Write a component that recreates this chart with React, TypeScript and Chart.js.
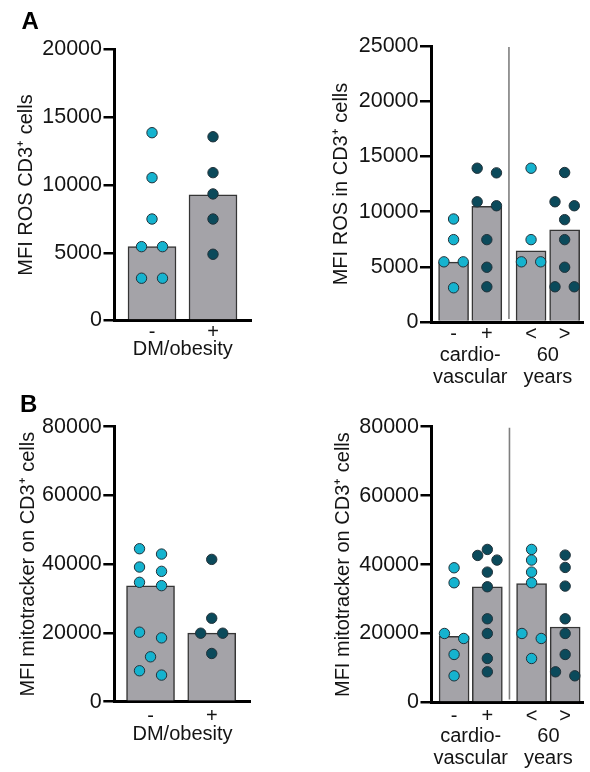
import React, { useEffect, useRef } from 'react';
import { Chart, registerables } from 'chart.js';

Chart.register(...registerables);

// ---------- DATA ----------
// Panel A, left: MFI ROS CD3+ by DM/obesity
const rosDmCategories = ['-', '+'];
const rosDmTitle = 'DM/obesity';
const rosDmBars = [5450, 9270];
const rosDmNeg = [13860, 10540, 7490, 5450, 5450, 3120, 3120];
const rosDmPos = [13560, 10910, 9340, 7490, 4890];

// Panel A, right: MFI ROS in CD3+ by cardiovascular / age
const rosRiskCategories = ['-', '+', '<', '>'];
const rosRiskGroups = [['cardio-', 'vascular'], ['60', 'years']];
const rosRiskBars = [5420, 10480, 6440, 8360];
const rosCvNeg = [9330, 7460, 5450, 5450, 3100];
const rosCvPos = [13930, 13510, 10890, 10530, 7460, 4960, 3190];
const rosAgeLow = [13930, 7460, 5450, 5450];
const rosAgeHigh = [13540, 10890, 10530, 9270, 7460, 4960, 3190, 3190];

// Panel B, left: MFI mitotracker by DM/obesity
const mitoDmCategories = ['-', '+'];
const mitoDmTitle = 'DM/obesity';
const mitoDmBars = [33700, 19930];
const mitoDmNeg = [44500, 42950, 39180, 37920, 34730, 33760, 20220, 18570, 13060, 9000, 7740];
const mitoDmPos = [41400, 24280, 19930, 19930, 14030];

// Panel B, right: MFI mitotracker by cardiovascular / age
const mitoRiskCategories = ['-', '+', '<', '>'];
const mitoRiskGroups = [['cardio-', 'vascular'], ['60', 'years']];
const mitoRiskBars = [19200, 33570, 34500, 21900];
const mitoCvNeg = [39080, 34730, 20020, 18570, 13930, 7740];
const mitoCvPos = [44400, 42660, 41310, 37820, 33570, 24280, 20020, 12770, 8900];
const mitoAgeLow = [44400, 41310, 37820, 34730, 20020, 18570, 12770];
const mitoAgeHigh = [42760, 39180, 33760, 24280, 20020, 13930, 8900, 7740];

// Y-axis tick settings
const rosDmTicks = { max: 20000, step: 5000 };
const rosRiskTicks = { max: 25000, step: 5000 };
const mitoTicks = { max: 80000, step: 20000 };

// ---------- STYLE ----------
const FONT = "'Liberation Sans', Arial, Helvetica, sans-serif";
const LIGHT = '#15b3cf';
const DARK = '#0b4a5b';
const BAR_FILL = '#a4a3a8';
const BAR_EDGE = '#353535';
const TEXT = '#141414';

type Panel = {
  left: number; top: number; width: number; height: number;
  axisX: number; areaTop: number; areaBottom: number; areaRight: number;
  xMin: number; xMax: number; positions: number[]; barThickness: number; slot: number;
  categories: string[]; bars: number[]; groups: number[][]; colors: string[];
  yMax: number; yStep: number; yTitle: string; yTitlePad: number;
  xTickPad: number;
  xTitle?: string; xTitlePadBottom?: number;
  groupLabels?: string[][]; groupPositions?: number[]; groupPad?: number; separator?: number;
};

function swarm(values: number[], center: number, thr: number, slot: number) {
  const sorted = [...values].sort((a, b) => b - a);
  const pts: { x: number; y: number }[] = [];
  let i = 0;
  while (i < sorted.length) {
    let j = i + 1;
    while (j < sorted.length && sorted[j - 1] - sorted[j] < thr) j++;
    const bin = sorted.slice(i, j);
    const n = bin.length;
    const offs = n === 1 ? [0] : n === 2 ? [-1, 1] : n === 3 ? [0, -1, 1] : bin.map((_, k) => k - (n - 1) / 2);
    bin.forEach((v, k) => {
      pts.push({ x: center + offs[k] * slot, y: v });
    });
    i = j;
  }
  return pts;
}

const separatorPlugin = {
  id: 'separator',
  beforeDatasetsDraw(chart: any, _args: any, opts: any) {
    if (opts == null || opts.value == null) return;
    const { ctx, chartArea, scales } = chart;
    const x = scales.x.getPixelForValue(opts.value);
    ctx.save();
    ctx.strokeStyle = opts.color || '#888';
    ctx.lineWidth = opts.width || 1.5;
    ctx.beginPath();
    ctx.moveTo(x, chartArea.top + 1);
    ctx.lineTo(x, chartArea.bottom - 3);
    ctx.stroke();
    ctx.restore();
  },
};

function PanelChart({ p }: { p: Panel }) {
  const ref = useRef<HTMLCanvasElement | null>(null);
  useEffect(() => {
    if (!ref.current) return;
    const thr = p.yMax * 0.036;
    const datasets: any[] = p.groups.map((g, i) => ({
      type: 'scatter',
      data: swarm(g, p.positions[i], thr, p.slot),
      backgroundColor: p.colors[i],
      borderColor: '#22323a',
      borderWidth: 1,
      pointRadius: 5.2,
      pointHoverRadius: 5.2,
      order: 0,
    }));
    datasets.push({
      type: 'bar',
      data: p.positions.map((x, i) => ({ x, y: p.bars[i] })),
      backgroundColor: BAR_FILL,
      borderColor: BAR_EDGE,
      borderWidth: 1.5,
      barThickness: p.barThickness,
      order: 1,
    });
    const bottomTotal = p.top + p.height - p.areaBottom;
    const hasGroups = !!p.groupLabels;
    const xHeight = hasGroups ? 22 : bottomTotal;
    const scales: any = {
      x: {
        type: 'linear',
        position: 'bottom',
        min: p.xMin,
        max: p.xMax,
        offset: false,
        z: 1,
        grid: { display: false, drawTicks: false, tickLength: 0, offset: false },
        border: { display: true, color: '#000', width: 3 },
        afterBuildTicks: (s: any) => { s.ticks = p.positions.map((v) => ({ value: v })); },
        afterFit: (s: any) => { s.height = xHeight; },
        ticks: {
          autoSkip: false,
          maxRotation: 0,
          padding: p.xTickPad,
          color: TEXT,
          font: { family: FONT, size: 20, lineHeight: 1.2 },
          callback: (_v: any, i: number) => p.categories[i],
        },
        title: p.xTitle
          ? {
              display: true,
              text: p.xTitle,
              color: TEXT,
              font: { family: FONT, size: 20, lineHeight: 1.2 },
              padding: { top: 0, bottom: p.xTitlePadBottom },
            }
          : { display: false },
      },
      y: {
        type: 'linear',
        position: 'left',
        min: 0,
        max: p.yMax,
        afterFit: (s: any) => { s.width = p.axisX - p.left; },
        grid: {
          display: true,
          drawOnChartArea: false,
          drawTicks: true,
          tickLength: 11,
          tickWidth: 2.5,
          tickColor: '#000',
          color: '#000',
          lineWidth: 2.5,
        },
        border: { display: true, color: '#000', width: 3 },
        ticks: {
          stepSize: p.yStep,
          padding: 1.5,
          color: TEXT,
          font: { family: FONT, size: 21.5 },
          callback: (v: any) => String(v),
        },
        title: {
          display: true,
          text: p.yTitle,
          color: TEXT,
          font: { family: FONT, size: 20, lineHeight: 1.2 },
          padding: { top: p.yTitlePad, bottom: 0 },
        },
      },
    };
    if (hasGroups) {
      scales.x2 = {
        type: 'linear',
        position: 'bottom',
        min: p.xMin,
        max: p.xMax,
        offset: false,
        grid: { display: false, drawTicks: false, tickLength: 0 },
        border: { display: false },
        afterBuildTicks: (s: any) => { s.ticks = (p.groupPositions || []).map((v) => ({ value: v })); },
        afterFit: (s: any) => { s.height = bottomTotal - xHeight; },
        ticks: {
          autoSkip: false,
          maxRotation: 0,
          padding: p.groupPad || 0,
          color: TEXT,
          font: { family: FONT, size: 20, lineHeight: 1.125 },
          callback: (_v: any, i: number) => (p.groupLabels || [])[i],
        },
      };
    }
    const chart = new Chart(ref.current, {
      type: 'bar',
      data: { datasets },
      options: {
        animation: false,
        responsive: false,
        devicePixelRatio: 1,
        layout: {
          padding: {
            top: p.areaTop - p.top,
            right: p.left + p.width - p.areaRight,
            left: 0,
            bottom: 0,
          },
        },
        plugins: {
          legend: { display: false },
          tooltip: { enabled: false },
          separator: p.separator != null ? { value: p.separator, color: '#7f7f7f', width: 1.6 } : {},
        } as any,
        scales,
      },
      plugins: [separatorPlugin],
    });
    return () => chart.destroy();
  }, [p]);
  return (
    <canvas
      ref={ref}
      width={p.width}
      height={p.height}
      style={{ position: 'absolute', left: p.left, top: p.top, width: p.width, height: p.height }}
    />
  );
}

const panels: Panel[] = [
  {
    left: 0, top: 0, width: 295, height: 390,
    axisX: 114.5, areaTop: 49.5, areaBottom: 320.5, areaRight: 251,
    xMin: -0.615, xMax: 1.623, positions: [0, 1], barThickness: 48, slot: 0.172,
    categories: rosDmCategories, bars: rosDmBars, groups: [rosDmNeg, rosDmPos], colors: [LIGHT, DARK],
    yMax: rosDmTicks.max, yStep: rosDmTicks.step, yTitle: 'MFI ROS CD3\u207A cells', yTitlePad: 14.5,
    xTickPad: 0.3, xTitle: rosDmTitle, xTitlePadBottom: 28.9,
  },
  {
    left: 295, top: 0, width: 295, height: 390,
    axisX: 431, areaTop: 46, areaBottom: 322, areaRight: 590,
    xMin: -0.679, xMax: 3.916, positions: [0, 1, 2.33, 3.34], barThickness: 30, slot: 0.29,
    categories: rosRiskCategories, bars: rosRiskBars, groups: [rosCvNeg, rosCvPos, rosAgeLow, rosAgeHigh],
    colors: [LIGHT, DARK, LIGHT, DARK],
    yMax: rosRiskTicks.max, yStep: rosRiskTicks.step, yTitle: 'MFI ROS in CD3\u207A cells', yTitlePad: 34.5,
    xTickPad: 0, groupLabels: rosRiskGroups, groupPositions: [0.5, 2.835], groupPad: 0, separator: 1.665,
  },
  {
    left: 0, top: 385, width: 295, height: 387,
    axisX: 114.3, areaTop: 426.7, areaBottom: 701.7, areaRight: 250.7,
    xMin: -0.592, xMax: 1.637, positions: [0, 1], barThickness: 48, slot: 0.18,
    categories: mitoDmCategories, bars: mitoDmBars, groups: [mitoDmNeg, mitoDmPos], colors: [LIGHT, DARK],
    yMax: mitoTicks.max, yStep: mitoTicks.step, yTitle: 'MFI mitotracker on CD3\u207A cells', yTitlePad: 16,
    xTickPad: 2.3, xTitle: mitoDmTitle, xTitlePadBottom: 25.2,
  },
  {
    left: 295, top: 385, width: 295, height: 387,
    axisX: 431.5, areaTop: 426.7, areaBottom: 702.5, areaRight: 590,
    xMin: -0.679, xMax: 3.9, positions: [0, 1, 2.33, 3.34], barThickness: 30, slot: 0.29,
    categories: mitoRiskCategories, bars: mitoRiskBars, groups: [mitoCvNeg, mitoCvPos, mitoAgeLow, mitoAgeHigh],
    colors: [LIGHT, DARK, LIGHT, DARK],
    yMax: mitoTicks.max, yStep: mitoTicks.step, yTitle: 'MFI mitotracker on CD3\u207A cells', yTitlePad: 36,
    xTickPad: 1.5, groupLabels: mitoRiskGroups, groupPositions: [0.5, 2.835], groupPad: 0.5, separator: 1.665,
  },
];

export default function App() {
  const letter: React.CSSProperties = {
    position: 'absolute',
    fontFamily: FONT,
    fontWeight: 'bold',
    fontSize: 24,
    lineHeight: '24px',
    color: '#000',
  };
  return (
    <div style={{ position: 'absolute', left: 0, top: 0, width: 590, height: 772, background: '#fff', overflow: 'hidden' }}>
      {panels.map((p, i) => (
        <PanelChart key={i} p={p} />
      ))}
      <div style={{ ...letter, left: 21.5, top: 9 }}>A</div>
      <div style={{ ...letter, left: 20, top: 391.5 }}>B</div>
    </div>
  );
}
